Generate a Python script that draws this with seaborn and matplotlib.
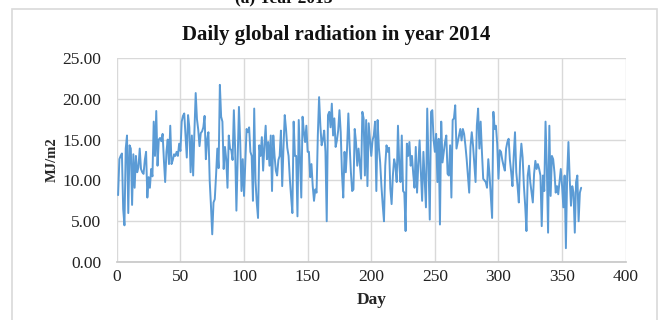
import pandas as pd
import matplotlib
matplotlib.use("Agg")
import matplotlib.pyplot as plt
import seaborn as sns
from matplotlib.patches import Rectangle

# daily global radiation 2014 (MJ/m2)
radiation = [
    8.2, 12.6, 13.0, 13.3, 6.5, 4.5, 13.9, 15.5, 6.0, 14.3,
    13.9, 7.0, 13.2, 9.1, 13.0, 11.0, 11.6, 13.9, 11.4, 11.0,
    10.8, 12.5, 13.5, 7.9, 10.4, 9.1, 11.4, 10.5, 17.2, 13.0,
    18.5, 11.8, 15.0, 15.2, 14.8, 15.7, 12.5, 9.8, 13.5, 15.0,
    12.0, 16.7, 12.0, 12.5, 13.2, 13.0, 13.5, 13.0, 14.5, 13.6,
    17.2, 17.9, 18.2, 15.4, 12.8, 18.0, 16.5, 11.0, 15.5, 10.6,
    16.0, 20.7, 17.5, 16.2, 14.2, 15.8, 16.0, 16.5, 17.9, 12.6,
    15.0, 15.9, 10.0, 6.9, 3.4, 7.3, 7.7, 10.6, 13.9, 11.5,
    21.7, 17.8, 17.2, 11.4, 14.1, 12.6, 9.1, 15.5, 13.9, 13.7,
    12.5, 18.6, 13.9, 6.3, 12.6, 19.0, 14.7, 8.7, 12.6, 8.1,
    12.2, 16.3, 15.9, 16.5, 13.5, 13.0, 7.5, 18.8, 10.0, 7.3,
    5.4, 14.3, 13.0, 15.3, 11.2, 14.3, 16.7, 12.6, 14.7, 11.8,
    15.5, 8.7, 15.5, 13.0, 11.2, 10.6, 12.5, 13.0, 16.1, 9.3,
    14.0, 18.0, 16.3, 14.0, 13.0, 10.2, 8.0, 6.0, 17.2, 13.0,
    13.0, 5.6, 17.4, 12.8, 7.9, 17.8, 16.0, 14.7, 16.7, 13.5,
    13.5, 10.4, 12.0, 9.3, 7.5, 8.9, 8.5, 15.5, 20.2, 16.7,
    14.3, 15.0, 16.1, 13.5, 5.0, 18.0, 18.4, 16.5, 19.4, 15.5,
    17.6, 14.1, 14.9, 16.1, 18.6, 15.9, 10.8, 7.9, 13.5, 11.0,
    14.0, 18.2, 14.3, 11.0, 8.7, 8.9, 16.3, 14.7, 11.8, 13.9,
    12.0, 10.2, 18.4, 17.6, 10.6, 17.4, 9.3, 17.0, 15.0, 13.0,
    14.9, 15.5, 17.2, 8.7, 17.4, 14.0, 12.2, 9.3, 7.0, 5.0,
    11.8, 14.3, 13.5, 14.0, 9.0, 7.1, 10.6, 12.6, 11.8, 9.8,
    16.7, 12.0, 9.8, 15.5, 8.7, 8.5, 3.8, 14.5, 13.0, 14.7,
    11.8, 13.0, 10.8, 9.1, 14.1, 8.5, 12.0, 14.9, 11.0, 7.5,
    13.5, 10.0, 6.7, 18.8, 12.2, 5.2, 18.4, 18.6, 15.0, 13.5,
    15.7, 9.8, 15.1, 4.6, 17.2, 12.2, 13.5, 14.7, 15.5, 10.8,
    10.6, 14.3, 7.9, 17.4, 17.6, 19.2, 13.9, 14.7, 15.5, 16.3,
    14.9, 16.3, 15.7, 14.3, 12.6, 10.6, 8.5, 14.1, 15.9, 14.3,
    12.0, 9.8, 16.7, 18.8, 13.9, 17.2, 13.5, 10.2, 10.0, 9.8,
    9.1, 12.6, 10.6, 8.0, 5.4, 18.4, 16.3, 16.7, 14.5, 10.2,
    13.7, 13.5, 12.5, 11.8, 11.2, 13.9, 14.7, 15.1, 12.5, 11.0,
    9.3, 13.0, 15.9, 11.0, 9.3, 7.3, 12.2, 14.5, 12.8, 9.3,
    6.9, 3.8, 10.6, 11.8, 9.8, 8.5, 7.3, 10.8, 12.4, 11.4,
    12.0, 11.4, 10.6, 4.4, 10.6, 8.7, 17.2, 11.8, 3.6, 16.7,
    8.1, 13.0, 12.6, 11.0, 8.5, 9.3, 8.3, 9.8, 11.4, 9.3,
    6.7, 10.6, 1.7, 10.6, 14.7, 10.2, 6.9, 9.3, 8.5, 3.6,
    9.8, 10.6, 5.0, 8.5, 9.1,
]
days = list(range(1, len(radiation) + 1))

x_ticks = [0, 50, 100, 150, 200, 250, 300, 350, 400]
y_ticks = [0, 5, 10, 15, 20, 25]

df = pd.DataFrame({"Day": days, "Radiation": radiation})

sns.set_theme(style="whitegrid")
plt.rcParams['font.family'] = ['Liberation Serif', 'DejaVu Serif']

fig = plt.figure(figsize=(6.6, 3.2), dpi=100)
ax = fig.add_axes([0.177, 0.181, 0.771, 0.638])

# outer chart frame (bottom edge falls outside the picture)
fig.patches.append(Rectangle((0.018, -0.2), 0.977, 1.172, transform=fig.transFigure,
                             fill=False, edgecolor='#d9d9d9', linewidth=1.2))

sns.lineplot(data=df, x="Day", y="Radiation", color='#5b9bd5', linewidth=1.4, ax=ax)

ax.set_xlim(0, 400)
ax.set_ylim(0, 25)
ax.set_xticks(x_ticks)
ax.set_yticks(y_ticks)
ax.set_yticklabels([f"{v:.2f}" for v in y_ticks])
ax.set_facecolor('white')
ax.grid(True, color='#d9d9d9', linewidth=1.0)
for side in ['top', 'right', 'left']:
    ax.spines[side].set_visible(False)
ax.spines['bottom'].set_color('#c8c8c8')
ax.tick_params(axis='both', length=0, labelsize=12.5, colors='#222222')
ax.tick_params(axis='y', pad=11)
ax.tick_params(axis='x', pad=5)

ax.set_xlabel("Day", fontsize=12.5, fontweight='bold', labelpad=5)
ax.set_ylabel("MJ/m2", fontsize=10.5, fontweight='bold', labelpad=3)

fig.text(0.51, 0.892, "Daily global radiation in year 2014", ha='center', va='center',
         fontsize=15, fontweight='bold', color='#111111')
# caption of the panel above, mostly cut off by the crop
fig.text(0.43, 0.99, "(a) Year 2013", ha='center', va='baseline',
         fontsize=12.5, fontweight='bold', color='#111111')

fig.savefig("out.png", dpi=100, facecolor='white')
